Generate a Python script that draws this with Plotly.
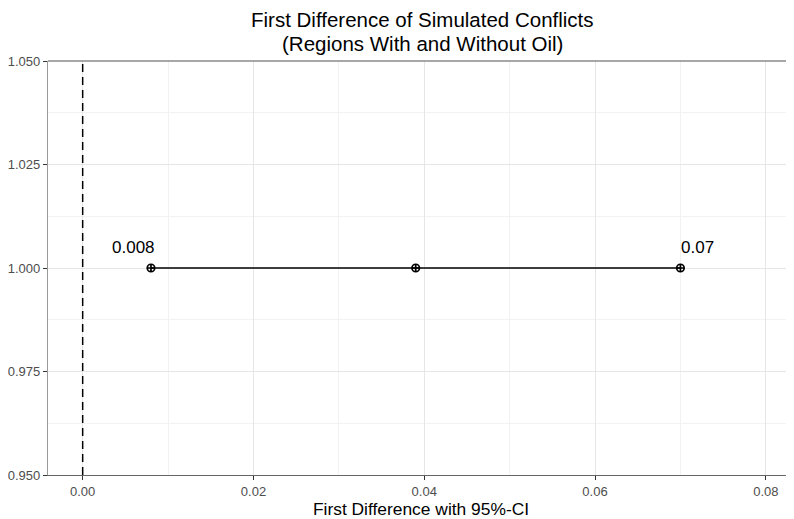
import plotly.graph_objects as go

fd_x = [0.008, 0.039, 0.07]
fd_y = [1.0, 1.0, 1.0]
label_x = [0.008, 0.07]
label_text = ["0.008", "0.07"]
x_ticks = [0.00, 0.02, 0.04, 0.06, 0.08]
x_tick_text = ["0.00", "0.02", "0.04", "0.06", "0.08"]
y_ticks = [0.950, 0.975, 1.000, 1.025, 1.050]
y_tick_text = ["0.950", "0.975", "1.000", "1.025", "1.050"]
title_lines = ["First Difference of Simulated Conflicts", "(Regions With and Without Oil)"]

# The page body has an 8px default margin, so the figure is sized to fit in the window.
W, H = 786, 511
ML, MT, MB = 40, 53, 44
PH = H - MT - MB

fig = go.Figure()
fig.add_trace(go.Scatter(
    x=fd_x, y=fd_y, mode="lines+markers",
    line=dict(color="black", width=1.4),
    marker=dict(symbol="circle-cross-open", size=7.5, color="black", line=dict(width=1.7)),
    showlegend=False, hoverinfo="skip"))

fig.add_shape(type="line", x0=0, x1=0, y0=0, y1=1, yref="paper", xref="x",
              line=dict(color="black", width=1.5, dash="8px,5px"))
# top panel border
fig.add_shape(type="line", x0=0, x1=1, xref="paper", y0=1, y1=1, yref="paper",
              line=dict(color="#8a8a8a", width=1.3))

fig.add_annotation(x=label_x[0], y=1.0, text=label_text[0], showarrow=False,
                   xanchor="center", yanchor="middle", xshift=-17, yshift=21,
                   font=dict(size=17, color="black"))
fig.add_annotation(x=label_x[1], y=1.0, text=label_text[1], showarrow=False,
                   xanchor="center", yanchor="middle", xshift=17, yshift=21,
                   font=dict(size=17, color="black"))

# two-line title as annotations (figure-pixel centres)
for line, yc in zip(title_lines, [11.0, 35.0]):
    fig.add_annotation(x=0.502, xref="paper", y=1 + (MT - yc) / PH, yref="paper",
                       text=line, showarrow=False, xanchor="center", yanchor="middle",
                       font=dict(size=20.5, color="black"))

fig.update_layout(
    width=W, height=H,
    margin=dict(l=ML, r=0, t=MT, b=MB, autoexpand=False),
    paper_bgcolor="white", plot_bgcolor="white",
    font=dict(family="Liberation Sans, Arial, sans-serif", color="#4d4d4d"),
    xaxis=dict(range=[-0.00406, 0.0833], tickvals=x_ticks, ticktext=x_tick_text,
               showgrid=True, gridcolor="#e6e6e6", gridwidth=1.4,
               minor=dict(dtick=0.01, showgrid=True, gridcolor="#f2f2f2", gridwidth=0.8),
               showline=True, linecolor="#666666", linewidth=1.3,
               ticks="outside", ticklen=4, tickcolor="#333333", tickwidth=1.2,
               tickfont=dict(size=13, color="#4d4d4d"), zeroline=False,
               title=dict(text="First Difference with 95%-CI", standoff=4,
                          font=dict(size=17.4, color="black"))),
    yaxis=dict(range=[0.95, 1.05], tickvals=y_ticks, ticktext=y_tick_text,
               showgrid=True, gridcolor="#e6e6e6", gridwidth=1.4,
               minor=dict(dtick=0.0125, showgrid=True, gridcolor="#f2f2f2", gridwidth=0.8),
               showline=True, linecolor="#9a9a9a", linewidth=1.3,
               ticks="outside", ticklen=4, tickcolor="#333333", tickwidth=1.2,
               tickfont=dict(size=13, color="#4d4d4d"), zeroline=False),
)

fig.write_html("out.html")
